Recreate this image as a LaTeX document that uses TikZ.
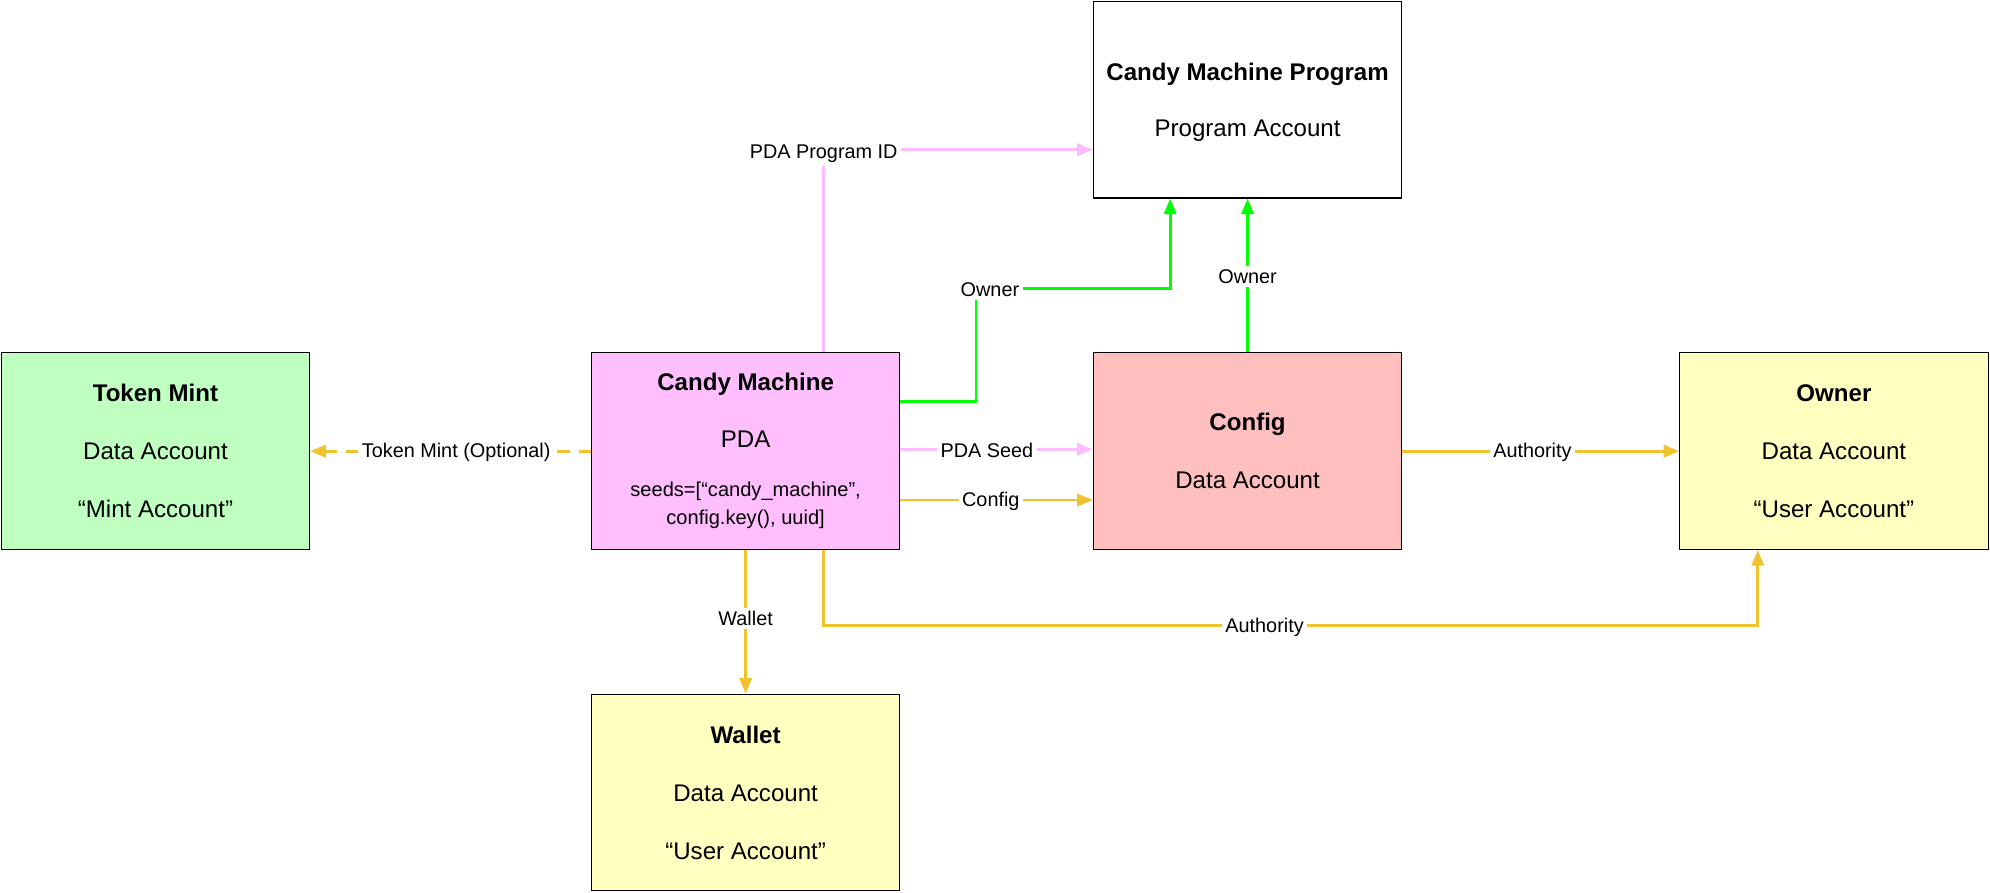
\documentclass[tikz,border=0pt]{standalone}
\usepackage{fontspec}
\setmainfont{Liberation Sans}
\usetikzlibrary{arrows.meta}
\definecolor{mintfill}{HTML}{BFFFBF}
\definecolor{cmfill}{HTML}{FFBFFF}
\definecolor{cfgfill}{HTML}{FFBFBF}
\definecolor{userfill}{HTML}{FFFFC0}
\definecolor{pdapink}{HTML}{FFBBFF}
\definecolor{ownergreen}{HTML}{00FF00}
\definecolor{authgold}{HTML}{F2C12E}
\newcommand{\seedfont}{\fontsize{9}{11}\selectfont}
\begin{document}
\begin{tikzpicture}
[x=0.02cm,y=-0.02cm,
 acct/.style={draw=black,line width=0.5pt,minimum width=4.86cm,minimum height=3.1cm,
   inner sep=0pt,align=center,font=\fontsize{10.8}{26}\selectfont},
 lbl/.style={fill=white,text=black,inner sep=1.5pt,yshift=-0.02cm,font=\fontsize{8.9}{10}\selectfont},
 link/.style={line width=1.3pt,-{Triangle[length=7pt,width=5.5pt]}}]
  \useasboundingbox (0,0) rectangle (1568,703);

  \node[acct,fill=mintfill] (mint) at (122.5,355.5) {\textbf{Token Mint}\\Data Account\\“Mint Account”};
  \node[acct,fill=cmfill] (cm) at (587.5,355.5) {\textbf{Candy Machine}\\[-0.5pt]PDA\\[-3.9pt]\seedfont seeds=[“candy\_machine”,\\[-13.5pt]\seedfont config.key(), uuid]};
  \node[acct,fill=cfgfill] (config) at (983,355.5) {\textbf{Config}\\Data Account};
  \node[acct,fill=userfill] (owner) at (1445,355.5) {\textbf{Owner}\\Data Account\\“User Account”};
  \node[acct,fill=white] (prog) at (983,78.5) {\rule{0pt}{10.2pt}\textbf{Candy Machine Program}\\[-0.5pt]Program Account};
  \node[acct,fill=userfill] (wallet) at (587.5,624.5) {\textbf{Wallet}\\Data Account\\“User Account”};

  \coordinate (pidturn) at (649,118);
  \coordinate (ownturn) at (769,227);
  \coordinate (authturn) at (649,493);

  \draw[link,pdapink] (cm.north -| pidturn) |- node[lbl,yshift=-0.05cm] (pidlbl) {PDA Program ID} (prog.west |- pidturn);
  \draw[link,ownergreen] ([yshift=0.79cm]cm.east) -| (ownturn) node[lbl,xshift=0.22cm] (ownlbl) {Owner} -| ([xshift=-1.22cm]prog.south);
  \draw[link,ownergreen] (config.north) -- node[lbl] (cfgownlbl) {Owner} (prog.south);

  \draw[link,authgold,dash pattern=on 5.5pt off 4pt] (cm.west) -- node[lbl,pos=.48] (mintlbl) {Token Mint (Optional)} (mint.east);
  \draw[link,pdapink] ([yshift=0.03cm]cm.east) -- node[lbl,pos=.45] (seedlbl) {PDA Seed} ([yshift=0.03cm]config.west);
  \draw[link,authgold] ([yshift=-0.77cm]cm.east) -- node[lbl,pos=.47] (cfglbl) {Config} ([yshift=-0.77cm]config.west);
  \draw[link,authgold] (config.east) -- node[lbl,pos=.47] (authlbl) {Authority} (owner.west);
  \draw[link,authgold] (cm.south) -- node[lbl,pos=.47] (walletlbl) {Wallet} (wallet.north);
  \draw[link,authgold] (cm.south -| authturn) -- (authturn) -| node[lbl,pos=.236] (auth2lbl) {Authority} ([xshift=-1.2cm]owner.south);
\end{tikzpicture}
\end{document}
